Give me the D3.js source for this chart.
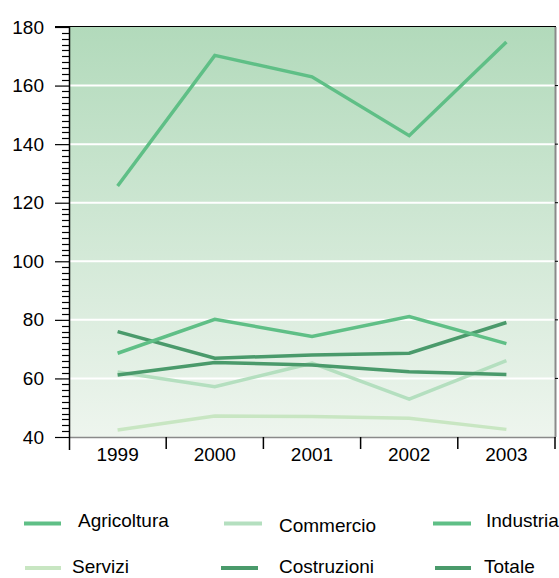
<!DOCTYPE html>
<html>
<head>
<meta charset="utf-8">
<script src="https://cdn.jsdelivr.net/npm/d3@7"></script>
<style>
  html, body { margin: 0; padding: 0; background: #fff; }
  svg { display: block; font-family: "Liberation Sans", Arial, Helvetica, sans-serif; }
</style>
</head>
<body>
<svg id="chart" width="559" height="578"></svg>
<script>
// Years on the horizontal axis
const years = ["1999", "2000", "2001", "2002", "2003"];

// Index values per sector
const agricoltura = [125.7, 170.3, 163.0, 142.9, 174.9];
const industria   = [68.6, 80.2, 74.3, 81.1, 71.9];
const costruzioni = [76.0, 66.9, 68.0, 68.6, 79.1];
const totale      = [61.2, 65.4, 64.6, 62.3, 61.3];
const commercio   = [62.2, 57.2, 65.2, 52.9, 66.1];
const servizi     = [42.4, 47.2, 47.0, 46.4, 42.6];

const yTicks = [40, 60, 80, 100, 120, 140, 160, 180];

const series = [
  { name: "Agricoltura", values: agricoltura, color: "#5fbf86" },
  { name: "Commercio",   values: commercio,   color: "#b4dfbf" },
  { name: "Industria",   values: industria,   color: "#5fbf86" },
  { name: "Servizi",     values: servizi,     color: "#c8e6c2" },
  { name: "Costruzioni", values: costruzioni, color: "#4a9a6b" },
  { name: "Totale",      values: totale,      color: "#4a9a6b" }
];

const FONT = 19;
const svg = d3.select("#chart");
const plotL = 69, plotR = 555, plotT = 27, plotB = 437;

const x = d3.scaleBand().domain(years).range([plotL, plotR]);
const y = d3.scaleLinear().domain([40, 180]).range([plotB, plotT]);

// Plot background gradient
const defs = svg.append("defs");
const grad = defs.append("linearGradient").attr("id", "bg")
  .attr("x1", 0).attr("y1", 0).attr("x2", 0).attr("y2", 1);
grad.append("stop").attr("offset", "0%").attr("stop-color", "#b2dabb");
grad.append("stop").attr("offset", "100%").attr("stop-color", "#eef5ee");

svg.append("rect")
  .attr("x", plotL).attr("y", plotT)
  .attr("width", plotR - plotL).attr("height", plotB - plotT)
  .attr("fill", "url(#bg)");

// Horizontal grid lines
svg.append("g")
  .selectAll("line")
  .data(yTicks.filter(d => d > 40 && d < 180))
  .join("line")
  .attr("x1", plotL).attr("x2", plotR)
  .attr("y1", d => y(d)).attr("y2", d => y(d))
  .attr("stroke", "#ffffff").attr("stroke-width", 2);

// Right frame line with small ticks at grid values
svg.append("line")
  .attr("x1", plotR + 0.5).attr("x2", plotR + 0.5)
  .attr("y1", plotT).attr("y2", plotB)
  .attr("stroke", "#8a8a8a").attr("stroke-width", 2);
svg.append("g")
  .selectAll("line")
  .data(yTicks.filter(d => d > 40 && d < 180))
  .join("line")
  .attr("x1", plotR).attr("x2", plotR + 3)
  .attr("y1", d => y(d)).attr("y2", d => y(d))
  .attr("stroke", "#000").attr("stroke-width", 1);

// Bottom frame line
svg.append("line")
  .attr("x1", plotL).attr("x2", plotR + 1)
  .attr("y1", plotB + 0.5).attr("y2", plotB + 0.5)
  .attr("stroke", "#8a8a8a").attr("stroke-width", 1.5);

// Top frame line
svg.append("line")
  .attr("x1", 55).attr("x2", plotR + 1)
  .attr("y1", plotT - 0.5).attr("y2", plotT - 0.5)
  .attr("stroke", "#000").attr("stroke-width", 1.2);

// Y axis: major ticks with labels
const yAxis = d3.axisLeft(y).tickValues(yTicks).tickSize(14).tickPadding(11);
const gy = svg.append("g").attr("transform", `translate(${plotL},0)`).call(yAxis);
gy.select(".domain").attr("stroke", "#000").attr("stroke-width", 1.5)
  .attr("d", `M0.5,${plotT}V${plotB + 13}`);
gy.selectAll(".tick line").attr("stroke", "#000").attr("stroke-width", 1.2);
gy.selectAll(".tick text").attr("font-size", FONT).attr("fill", "#000")
  .attr("font-family", "Liberation Sans, Arial, sans-serif");

// Y axis: minor ticks every 2 units
const minor = d3.range(40, 181, 2).filter(d => d % 20 !== 0);
svg.append("g")
  .selectAll("line")
  .data(minor)
  .join("line")
  .attr("x1", plotL - 7).attr("x2", plotL + 1)
  .attr("y1", d => Math.round(y(d)) + 0.5).attr("y2", d => Math.round(y(d)) + 0.5)
  .attr("stroke", "#000").attr("stroke-width", 1.2);

// X axis: ticks at band boundaries, labels centred in bands
const gx = svg.append("g");
gx.selectAll("line")
  .data(years)
  .join("line")
  .attr("x1", d => x(d) + x.bandwidth())
  .attr("x2", d => x(d) + x.bandwidth())
  .attr("y1", plotB).attr("y2", plotB + 12)
  .attr("stroke", "#000").attr("stroke-width", 1.5);
gx.selectAll("text")
  .data(years)
  .join("text")
  .attr("x", d => x(d) + x.bandwidth() / 2)
  .attr("y", plotB + 24)
  .attr("text-anchor", "middle")
  .attr("font-size", FONT)
  .attr("fill", "#000")
  .text(d => d);

// Series lines
const line = d3.line()
  .x((d, i) => x(years[i]) + x.bandwidth() / 2)
  .y(d => y(d));

const drawOrder = ["Servizi", "Commercio", "Totale", "Costruzioni", "Industria", "Agricoltura"];
drawOrder.forEach(n => {
  const s = series.find(d => d.name === n);
  svg.append("path")
    .datum(s.values)
    .attr("d", line)
    .attr("fill", "none")
    .attr("stroke", s.color)
    .attr("stroke-width", 3.5);
});

// Legend
const legendPos = [
  { sx: 24,  ex: 61,  tx: 78,  y: 523.5, ty: 527 },
  { sx: 224, ex: 262, tx: 279, y: 523.5, ty: 532 },
  { sx: 433, ex: 471, tx: 486, y: 523.5, ty: 527 },
  { sx: 25,  ex: 61,  tx: 72,  y: 568,   ty: 573 },
  { sx: 221, ex: 258, tx: 279, y: 568,   ty: 573 },
  { sx: 435, ex: 471, tx: 484, y: 568,   ty: 573 }
];
const lg = svg.append("g");
series.forEach((s, i) => {
  const p = legendPos[i];
  lg.append("line")
    .attr("x1", p.sx).attr("x2", p.ex)
    .attr("y1", p.y).attr("y2", p.y)
    .attr("stroke", s.color).attr("stroke-width", 4);
  lg.append("text")
    .attr("x", p.tx).attr("y", p.ty)
    .attr("font-size", FONT).attr("fill", "#000")
    .text(s.name);
});
</script>
</body>
</html>
